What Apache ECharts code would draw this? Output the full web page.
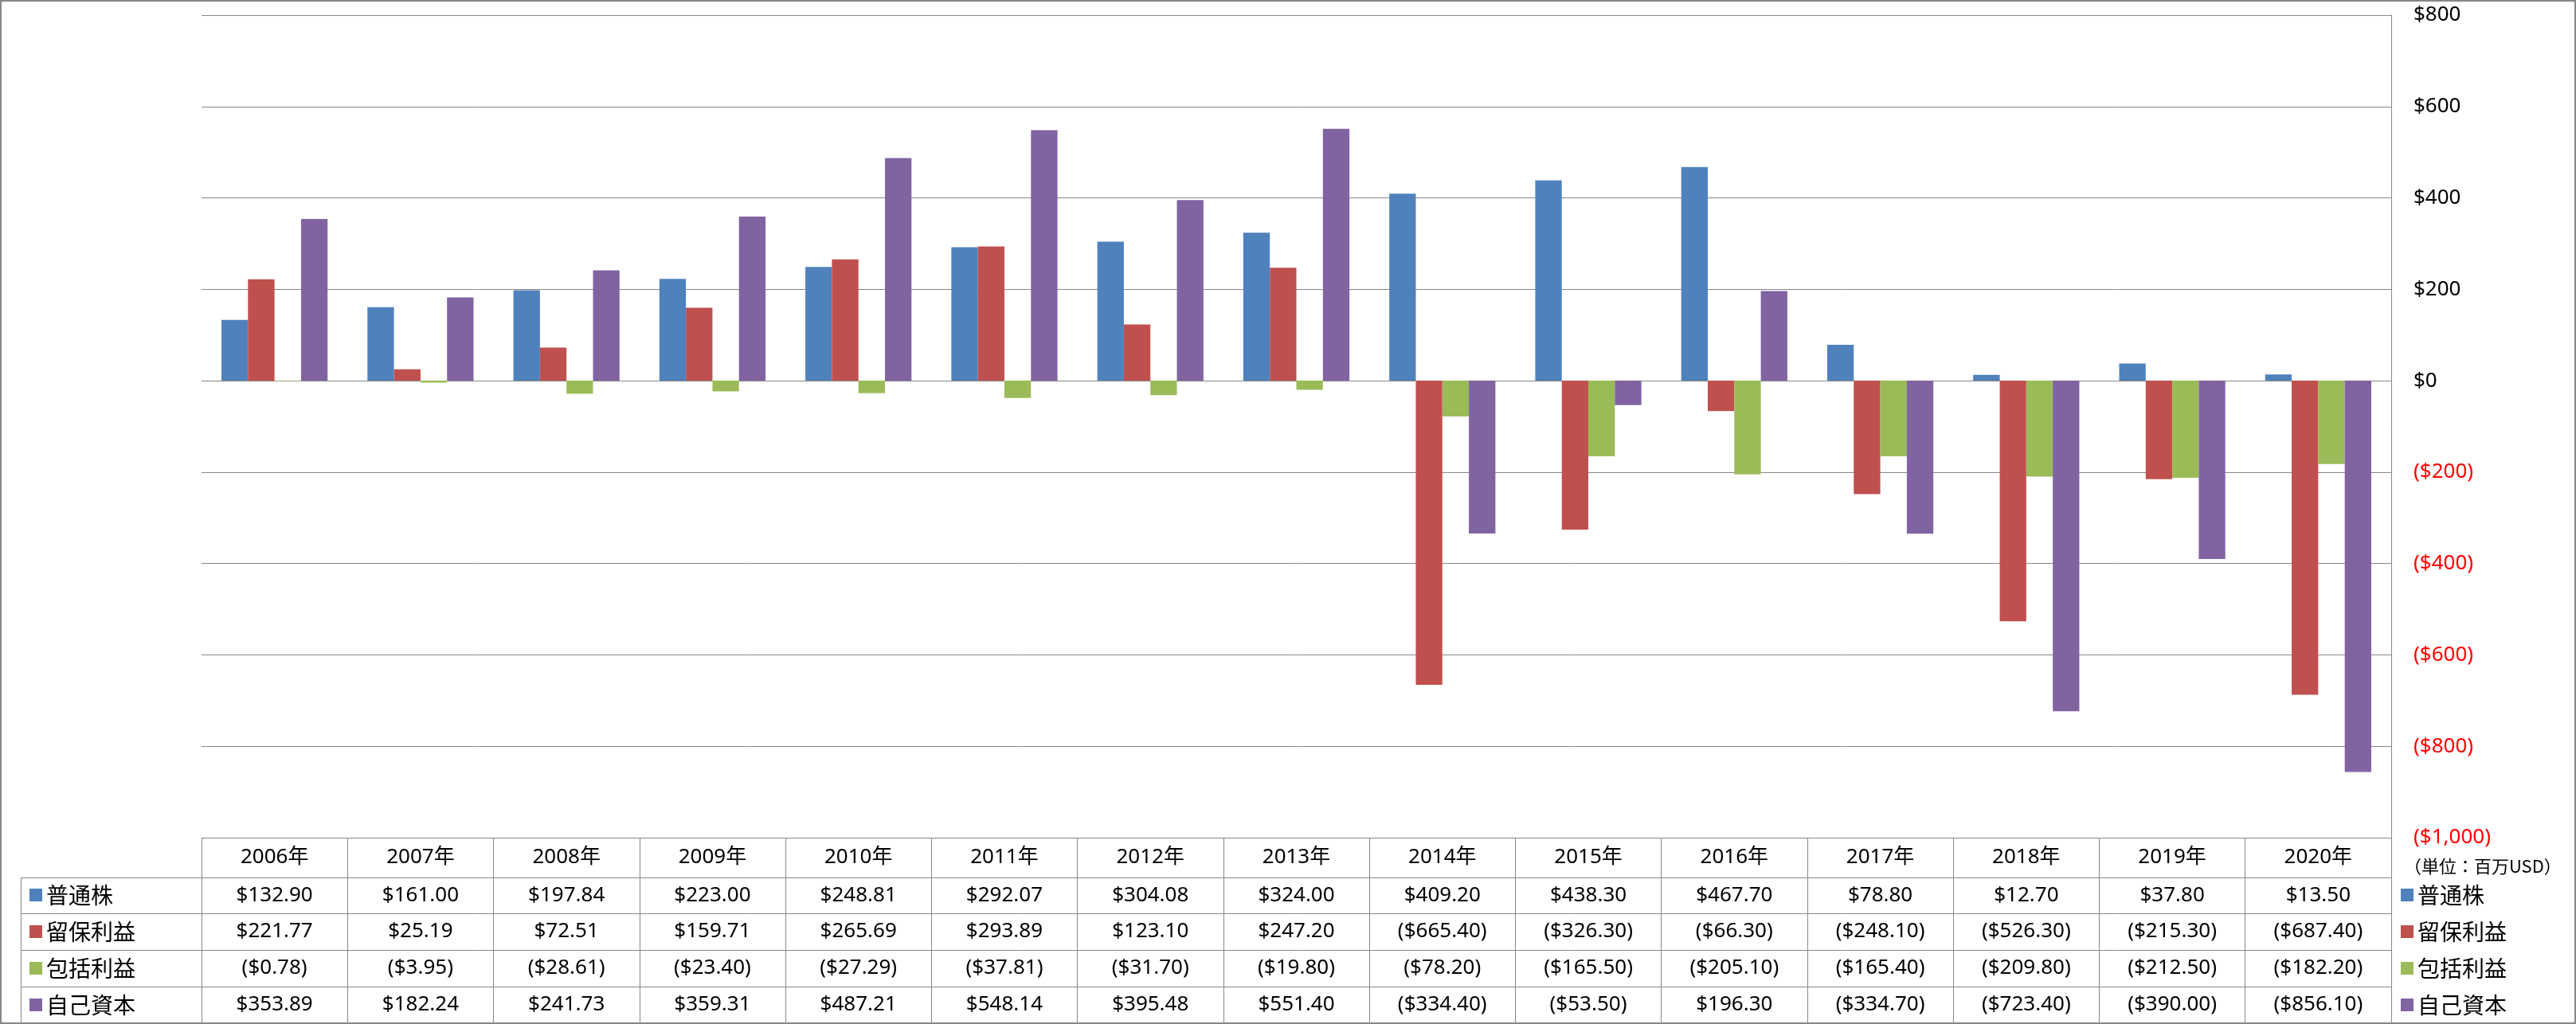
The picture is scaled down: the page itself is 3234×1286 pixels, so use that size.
<!DOCTYPE html>
<html>
<head>
<meta charset="utf-8">
<script src="https://cdn.jsdelivr.net/npm/echarts@6/dist/echarts.min.js"></script>
<style>
html,body{margin:0;padding:0;background:#fff;}
#chart{width:3234px;height:1286px;}
</style>
</head>
<body>
<div id="chart"></div>
<script>
const categories = ['2006年','2007年','2008年','2009年','2010年','2011年','2012年','2013年','2014年','2015年','2016年','2017年','2018年','2019年','2020年'];
const seriesNames = ['普通株','留保利益','包括利益','自己資本'];
const commonStock = [132.90,161.00,197.84,223.00,248.81,292.07,304.08,324.00,409.20,438.30,467.70,78.80,12.70,37.80,13.50];
const retainedEarnings = [221.77,25.19,72.51,159.71,265.69,293.89,123.10,247.20,-665.40,-326.30,-66.30,-248.10,-526.30,-215.30,-687.40];
const comprehensiveIncome = [-0.78,-3.95,-28.61,-23.40,-27.29,-37.81,-31.70,-19.80,-78.20,-165.50,-205.10,-165.40,-209.80,-212.50,-182.20];
const equity = [353.89,182.24,241.73,359.31,487.21,548.14,395.48,551.40,-334.40,-53.50,196.30,-334.70,-723.40,-390.00,-856.10];
const yMin = -1000, yMax = 800, yStep = 200;
const unitLabel = '（単位：百万USD）';

const seriesData = [commonStock, retainedEarnings, comprehensiveIncome, equity];
const colors = ['#4F81BD','#C0504D','#9BBB59','#8064A2'];
const FONT = "'Noto Sans', 'Noto Sans CJK JP', sans-serif";
const LINE = '#888888';

function money(v, dec) {
  const s = Math.abs(v).toLocaleString('en-US', {minimumFractionDigits: dec, maximumFractionDigits: dec});
  return v < 0 ? '($' + s + ')' : '$' + s;
}

// layout
const W = 3234, H = 1286;
const gL = 253, gR = 3002, gT = 19, gB = 1052;
const rowOffsets = [50, 95, 141, 187];

const xAxes = [{
  type: 'category', gridIndex: 0, position: 'bottom', data: categories,
  axisLine: {show: true, onZero: false, lineStyle: {color: LINE, width: 1}},
  axisTick: {show: true, alignWithLabel: false, interval: 0, length: 233, inside: false, lineStyle: {color: LINE, width: 1}},
  axisLabel: {show: true, interval: 0, margin: 25, verticalAlign: 'middle', fontSize: 26, color: '#000', fontFamily: FONT},
  splitLine: {show: false}
}];
seriesData.forEach(function (arr, i) {
  xAxes.push({
    type: 'category', gridIndex: 0, position: 'bottom', offset: rowOffsets[i],
    data: arr.map(function (v) { return money(v, 2); }),
    axisLine: {show: true, onZero: false, lineStyle: {color: LINE, width: 1}},
    axisTick: {show: false},
    axisLabel: {show: true, interval: 0, margin: 23, verticalAlign: 'middle', fontSize: 26, color: '#000', fontFamily: FONT},
    splitLine: {show: false}
  });
});

const graphics = [];
// left header column lines
[1102, 1147, 1193, 1239].forEach(function (y) {
  graphics.push({type: 'line', shape: {x1: 26, y1: y + 0.5, x2: gL, y2: y + 0.5}, style: {stroke: LINE, lineWidth: 1}, silent: true});
});
graphics.push({type: 'line', shape: {x1: 26.5, y1: 1102, x2: 26.5, y2: H}, style: {stroke: LINE, lineWidth: 1}, silent: true});
// right axis line extended down through table
graphics.push({type: 'line', shape: {x1: gR + 0.5, y1: gB, x2: gR + 0.5, y2: H}, style: {stroke: LINE, lineWidth: 1}, silent: true});
// unit label
graphics.push({type: 'text', x: 3018, y: 1088, style: {text: unitLabel, font: "22px 'Noto Sans CJK JP', sans-serif", fill: '#000', verticalAlign: 'middle', textAlign: 'left'}, silent: true});
// outer border
graphics.push({type: 'rect', shape: {x: 1, y: 1, width: W - 2, height: H - 2}, style: {fill: 'none', stroke: '#878787', lineWidth: 2}, silent: true, z: 100});

const legendCommon = {
  orient: 'vertical', data: seriesNames, selectedMode: false, icon: 'rect',
  itemWidth: 16, itemHeight: 16, itemGap: 18, top: 1110,
  textStyle: {fontSize: 28, lineHeight: 28, color: '#000', fontFamily: "'Noto Sans CJK JP', sans-serif"},
  padding: 0
};

const option = {
  animation: false,
  backgroundColor: '#fff',
  color: colors,
  grid: {left: gL, right: W - gR, top: gT, bottom: H - gB, containLabel: false, outerBoundsMode: 'none'},
  legend: [
    Object.assign({}, legendCommon, {left: 37}),
    Object.assign({}, legendCommon, {left: 3014})
  ],
  xAxis: xAxes,
  yAxis: {
    type: 'value', position: 'right', min: yMin, max: yMax, interval: yStep,
    axisLine: {show: true, lineStyle: {color: LINE, width: 1}},
    axisTick: {show: false},
    splitLine: {show: true, lineStyle: {color: LINE, width: 1}},
    axisLabel: {
      margin: 28, fontSize: 26, fontFamily: FONT, color: '#000',
      formatter: function (v) { return v < 0 ? '{neg|' + money(v, 0) + '}' : money(v, 0); },
      rich: {neg: {color: '#FF0000', fontSize: 26, fontFamily: FONT}}
    }
  },
  graphic: graphics,
  series: seriesData.map(function (arr, i) {
    return {
      name: seriesNames[i], type: 'bar', xAxisIndex: 0, yAxisIndex: 0, data: arr,
      barGap: '0%', barCategoryGap: '27.3%',
      itemStyle: {color: colors[i]}
    };
  })
};

const chart = echarts.init(document.getElementById('chart'), null, {renderer: 'canvas'});
chart.setOption(option);
</script>
</body>
</html>
